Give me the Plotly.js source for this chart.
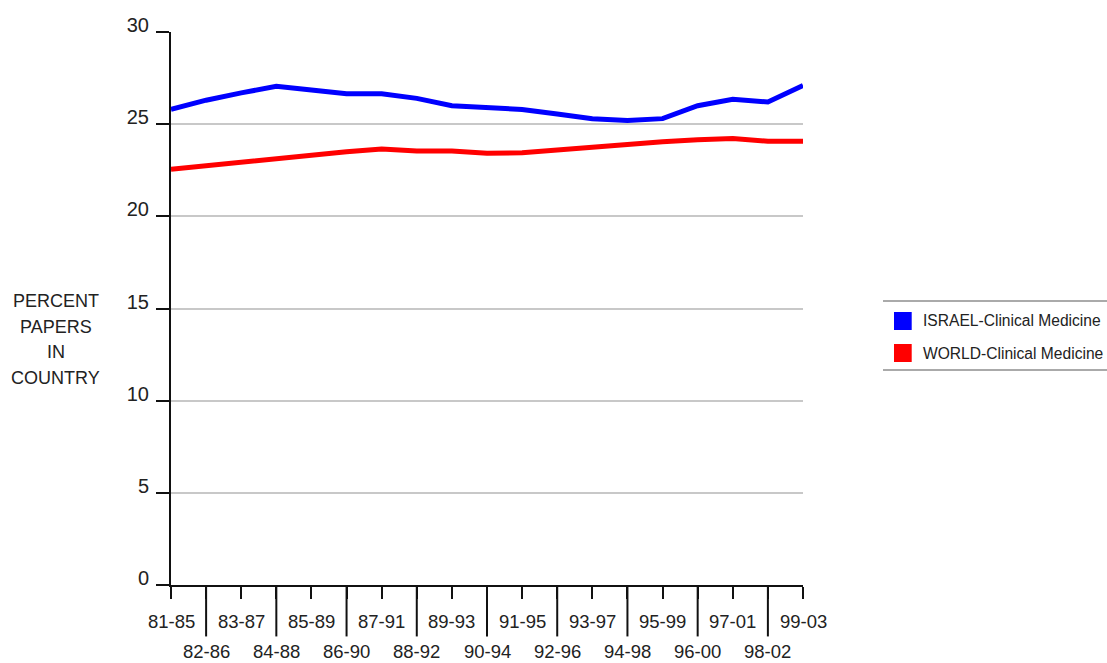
<!DOCTYPE html>
<html>
<head>
<meta charset="utf-8">
<script src="https://cdn.plot.ly/plotly-3.0.1.min.js"></script>
<style>html,body{margin:0;padding:0;background:#fff;}#chart{width:1107px;height:663px;}</style>
</head>
<body>
<div id="chart"></div>
<script>
const periods = ["81-85","82-86","83-87","84-88","85-89","86-90","87-91","88-92","89-93","90-94","91-95","92-96","93-97","94-98","95-99","96-00","97-01","98-02","99-03"];
const israel = [25.8,26.3,26.7,27.05,26.85,26.65,26.65,26.4,26.0,25.9,25.8,25.55,25.3,25.2,25.3,26.0,26.35,26.2,27.1];
const world  = [22.55,22.75,22.95,23.15,23.35,23.5,23.65,23.55,23.55,23.42,23.45,23.6,23.75,23.95,24.05,24.15,24.22,24.07,24.07];
const seriesNames = ["ISRAEL-Clinical Medicine","WORLD-Clinical Medicine"];
const seriesColors = ["#0000ff","#ff0000"];
const yTicks = [0,5,10,15,20,25,30];
const yTitleLines = ["PERCENT","PAPERS","IN","COUNTRY"];

const fam = "Liberation Sans, Arial, sans-serif";
const font = {family:fam, size:18, color:"#222"};

const traces = [israel, world].map((vals,i)=>({
  x: periods, y: vals, type:"scatter", mode:"lines",
  line:{color:seriesColors[i], width:5}, name:seriesNames[i], showlegend:false
}));

const shapes = [];
const annotations = [];
// x labels in two rows, separators before odd-indexed labels
periods.forEach((p,i)=>{
  annotations.push({x:p, xref:"x", y:0, yref:"paper", text:p, showarrow:false,
    yanchor:"middle", xanchor:"center", yshift: (i%2===0)?-36:-66,
    font:{family:fam, size:18.5, color:"#222"}});
  if(i%2===1){
    shapes.push({type:"line", xref:"x", yref:"paper", x0:p, x1:p, y0:0, y1:-0.093,
      line:{color:"#111", width:2}});
  }
});
// y title, one line each
yTitleLines.forEach((t,i)=>{
  annotations.push({xref:"paper", yref:"paper", x:-0.182, y:0.5136 - 0.0465*i, xanchor:"center", yanchor:"middle",
    text:t, showarrow:false, font:{family:fam, size:18, color:"#222"}});
});
// legend (manual)
shapes.push({type:"line", xref:"paper", yref:"paper", x0:1.1266, x1:1.6, y0:0.5136, y1:0.5136, line:{color:"#aaa", width:2}});
shapes.push({type:"line", xref:"paper", yref:"paper", x0:1.1266, x1:1.6, y0:0.3888, y1:0.3888, line:{color:"#aaa", width:2}});
seriesNames.forEach((n,i)=>{
  const yc = 0.4774 - i*0.0579;
  shapes.push({type:"rect", xref:"paper", yref:"paper", x0:1.144, x1:1.172, y0:yc-0.0163, y1:yc+0.0163,
    fillcolor:seriesColors[i], line:{width:0}});
  annotations.push({xref:"paper", yref:"paper", x:1.186, y:yc, xanchor:"left", yanchor:"middle",
    text:n, showarrow:false, font:{family:fam, size:15.6, color:"#222"}});
});

const layout = {
  width:1107, height:663,
  margin:{l:171, r:304, t:32, b:78},
  paper_bgcolor:"#fff", plot_bgcolor:"#fff",
  font: font,
  xaxis:{type:"category", categoryorder:"array", categoryarray:periods, range:[0,periods.length-1],
    showgrid:false, zeroline:false, showline:true, linecolor:"#111", linewidth:2,
    ticks:"outside", ticklen:12, tickwidth:2, tickcolor:"#111", showticklabels:false},
  yaxis:{range:[0,30], tickvals:yTicks, showgrid:true, gridcolor:"#c8c8c8", gridwidth:2,
    zeroline:false, showline:true, linecolor:"#111", linewidth:2,
    ticks:"outside", ticklen:13, tickwidth:2, tickcolor:"#111", ticklabelshift:-7, ticklabelstandoff:3,
    tickfont:{family:fam, size:20, color:"#222"}},
  shapes: shapes,
  annotations: annotations
};
Plotly.newPlot("chart", traces, layout, {displayModeBar:false, staticPlot:true});
</script>
</body>
</html>
